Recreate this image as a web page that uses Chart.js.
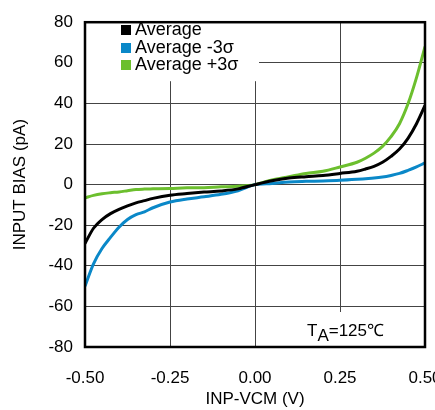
<!DOCTYPE html>
<html>
<head>
<meta charset="utf-8">
<script src="https://cdn.jsdelivr.net/npm/chart.js@4"></script>
<style>
	html, body { margin: 0; padding: 0; background: #fff; }
	#container { width: 435px; height: 410px; position: relative; }
</style>
</head>
<body>
<div id="container"><canvas id="bias-chart"></canvas></div>
<script>
// INP-VCM (V)
const vcmValues = [-0.5, -0.475, -0.45, -0.425, -0.4, -0.375, -0.35, -0.325, -0.3, -0.25, -0.2, -0.15, -0.1, -0.05,
	0, 0.05, 0.1, 0.15, 0.2, 0.25, 0.3, 0.325, 0.35, 0.375, 0.4, 0.425, 0.45, 0.475, 0.5];
// input bias (pA)
const averageValues = [-29, -21.5, -17.2, -14.3, -12.2, -10.5, -9, -7.9, -6.8, -5.2, -4.4, -3.7, -3.1, -2.1,
	0, 1.9, 3.2, 3.9, 4.5, 5.5, 6.6, 7.7, 9, 11, 13.9, 17.5, 22.8, 30, 39];
const minusValues = [-50, -39, -31.5, -26, -21, -17.2, -14.8, -13.4, -11.4, -8.6, -7.1, -6, -4.8, -3,
	0, 0.6, 1.3, 1.6, 1.8, 2.1, 2.6, 2.9, 3.2, 3.7, 4.5, 5.5, 7, 8.7, 10.7];
const plusValues = [-6.5, -5.3, -4.5, -4, -3.6, -3, -2.4, -2.2, -2.1, -1.9, -1.6, -1.5, -1.1, -0.8,
	0, 2.3, 3.9, 5.5, 6.6, 8.7, 11, 13, 15.5, 18.8, 23.6, 30, 39.8, 52.7, 68];

const xTickLabels = ["-0.50", "-0.25", "0.00", "0.25", "0.50"];
const yTickLabels = ["-80", "-60", "-40", "-20", "0", "20", "40", "60", "80"];
const seriesLabels = ["Average", "Average -3σ", "Average +3σ"];
const FONT = "'Liberation Sans', Arial, sans-serif";

function toPoints(values) {
	return values.map((v, i) => ({ x: vcmValues[i], y: v }));
}

// legend box and temperature note, drawn over the grid
const overlayPlugin = {
	id: "overlay",
	beforeDatasetsDraw(chart) {
		const { ctx, chartArea } = chart;
		ctx.save();
		ctx.fillStyle = "#fff";
		ctx.fillRect(chartArea.left, chartArea.top, 174, 59);
		ctx.fillRect(300, 312, chartArea.right - 300, chartArea.bottom - 312);

		ctx.font = "18px " + FONT;
		ctx.textBaseline = "alphabetic";
		const rows = [35, 53, 70];
		chart.data.datasets.forEach((ds, i) => {
			ctx.fillStyle = ds.borderColor;
			ctx.fillRect(121, rows[i] - 10, 10, 10);
			ctx.fillStyle = "#000";
			ctx.fillText(ds.label, 135, rows[i]);
		});

		// T_A=125℃
		ctx.font = "17px " + FONT;
		ctx.fillStyle = "#000";
		ctx.fillText("T", 307, 336);
		const tw = ctx.measureText("T").width;
		ctx.fillText("A", 307 + tw, 341);
		const aw = ctx.measureText("A").width;
		ctx.fillText("=125℃", 307 + tw + aw, 336);
		ctx.restore();
	},
	afterDraw(chart) {
		const { ctx, chartArea } = chart;
		ctx.save();
		ctx.strokeStyle = "#000";
		ctx.lineWidth = 2.5;
		ctx.strokeRect(chartArea.left, chartArea.top,
			chartArea.right - chartArea.left, chartArea.bottom - chartArea.top);
		ctx.restore();
	},
};

const ctx = document.getElementById("bias-chart").getContext("2d");
new Chart(ctx, {
	type: "line",
	data: {
		datasets: [
			{ label: seriesLabels[0], data: toPoints(averageValues), borderColor: "#000000" },
			{ label: seriesLabels[1], data: toPoints(minusValues), borderColor: "#0a88c8" },
			{ label: seriesLabels[2], data: toPoints(plusValues), borderColor: "#6cbf2e" },
		].map((ds) => Object.assign(ds, {
			borderWidth: 3,
			pointRadius: 0,
			fill: false,
			cubicInterpolationMode: "monotone",
		})),
	},
	options: {
		responsive: true,
		maintainAspectRatio: false,
		animation: false,
		layout: { padding: { top: 17, right: 10, left: 0, bottom: 0 } },
		plugins: { legend: { display: false }, tooltip: { enabled: false } },
		scales: {
			x: {
				type: "linear",
				min: -0.5,
				max: 0.5,
				grid: { color: "#444", lineWidth: 1, drawTicks: false },
				border: { display: false },
				ticks: {
					stepSize: 0.25,
					padding: 21,
					color: "#000",
					font: { family: FONT, size: 17 },
					maxRotation: 0,
					callback: (value, index) => xTickLabels[index],
				},
				title: {
					display: true,
					text: "INP-VCM (V)",
					color: "#000",
					font: { family: FONT, size: 17 },
					padding: { top: 0, bottom: 0 },
				},
				afterFit(scale) {
					scale.height = 63;
					scale.paddingRight = 0;
					scale.paddingLeft = 0;
				},
			},
			y: {
				min: -80,
				max: 80,
				grid: { color: "#444", lineWidth: 1, drawTicks: false },
				border: { display: false },
				ticks: {
					stepSize: 20,
					padding: 12,
					color: "#000",
					font: { family: FONT, size: 17 },
					callback: (value, index) => yTickLabels[index],
				},
				title: {
					display: true,
					text: "INPUT BIAS (pA)",
					color: "#000",
					font: { family: FONT, size: 17 },
					padding: { top: 10, bottom: 0 },
				},
				afterFit(scale) {
					scale.width = 85;
				},
			},
		},
	},
	plugins: [overlayPlugin],
});
</script>
</body>
</html>
